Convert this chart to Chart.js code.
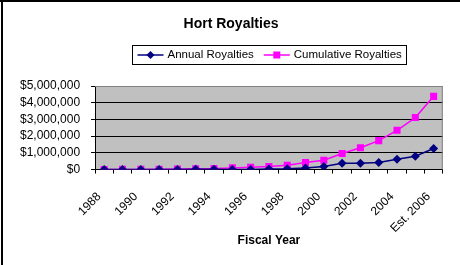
<!DOCTYPE html>
<html>
<head>
<meta charset="utf-8">
<title>Hort Royalties</title>
<script src="https://cdn.jsdelivr.net/npm/chart.js@4.4.0/dist/chart.umd.min.js"></script>
<style>
  html, body { margin: 0; padding: 0; background: #fff; }
  #wrap { width: 460px; height: 265px; }
</style>
</head>
<body>
<div id="wrap"><canvas id="royaltyChart" width="460" height="265"></canvas></div>
<script>
// Fiscal years on the x axis (last one is an estimate)
const fiscalYears = ['1988', '1989', '1990', '1991', '1992', '1993', '1994', '1995', '1996', '1997',
  '1998', '1999', '2000', '2001', '2002', '2003', '2004', '2005', 'Est. 2006'];

// Royalties in dollars
const annualRoyalties = [5000, 5000, 5000, 8000, 10000, 15000, 15000, 10000, 10000, 30000,
  50000, 100000, 180000, 380000, 380000, 420000, 620000, 800000, 1260000];
const cumulativeRoyalties = [5000, 10000, 10000, 20000, 30000, 50000, 60000, 100000, 140000, 180000,
  260000, 420000, 560000, 960000, 1310000, 1730000, 2350000, 3110000, 4380000];

const seriesNames = ['Annual Royalties', 'Cumulative Royalties'];
const seriesColors = ['#000080', '#ff00ff'];
const yMax = 5000000;
const yStep = 1000000;

const FONT = "'Liberation Sans', Arial, sans-serif";
Chart.defaults.font.family = FONT;
Chart.defaults.font.size = 12;
Chart.defaults.color = '#000';

// draws a small marker the way excel does it
function drawMarker(ctx, style, x, y, r, color) {
  ctx.save();
  ctx.fillStyle = color;
  ctx.beginPath();
  if (style === 'rectRot') {
    ctx.moveTo(x, y - r);
    ctx.lineTo(x + r, y);
    ctx.lineTo(x, y + r);
    ctx.lineTo(x - r, y);
    ctx.closePath();
  } else {
    ctx.rect(x - r, y - r, r * 2, r * 2);
  }
  ctx.fill();
  ctx.restore();
}

const excelFrame = {
  id: 'excelFrame',
  beforeDraw(chart) {
    const { ctx, chartArea: a } = chart;
    ctx.save();
    ctx.fillStyle = '#fff';
    ctx.fillRect(0, 0, chart.width, chart.height);
    ctx.fillStyle = '#c0c0c0';
    ctx.fillRect(a.left, a.top, a.right - a.left, a.bottom - a.top);
    ctx.restore();
  },
  beforeDatasetsDraw(chart) {
    // grey border on top and right of the plot area
    const { ctx, chartArea: a } = chart;
    ctx.save();
    ctx.strokeStyle = '#808080';
    ctx.lineWidth = 1;
    ctx.beginPath();
    ctx.moveTo(a.left, a.top + 0.5);
    ctx.lineTo(a.right - 0.5, a.top + 0.5);
    ctx.lineTo(a.right - 0.5, a.bottom);
    ctx.stroke();
    ctx.restore();
  },
  afterDraw(chart) {
    const { ctx, chartArea: a } = chart;
    ctx.save();

    // legend with a box round it, centred over the plot
    ctx.font = '11.5px ' + FONT;
    const sample = 26, gap = 4, itemGap = 10, pad = 5;
    const items = chart.data.datasets.map(ds => ({ ds, w: sample + gap + ctx.measureText(ds.label).width }));
    const total = items.reduce((s, it) => s + it.w, 0) + itemGap * (items.length - 1) + pad * 2;
    const boxTop = 45, boxH = 19;
    let left = Math.round((a.left + a.right) / 2 - total / 2) + 0.5;
    ctx.strokeStyle = '#000';
    ctx.lineWidth = 1;
    ctx.strokeRect(left, boxTop + 0.5, Math.round(total), boxH);
    const cy = boxTop + boxH / 2 + 0.5;
    let x = left + pad;
    items.forEach(({ ds, w }) => {
      ctx.strokeStyle = ds.borderColor;
      ctx.lineWidth = ds.borderWidth;
      ctx.beginPath();
      ctx.moveTo(x, cy);
      ctx.lineTo(x + sample, cy);
      ctx.stroke();
      drawMarker(ctx, ds.pointStyle, x + sample / 2, cy, ds.pointStyle === 'rectRot' ? 4 : 3.5, ds.backgroundColor);
      ctx.fillStyle = '#000';
      ctx.textBaseline = 'middle';
      ctx.textAlign = 'left';
      ctx.fillText(ds.label, x + sample + gap, cy);
      x += w + itemGap;
    });

    // outer chart border (top and left edges show in the crop)
    ctx.fillStyle = '#000';
    ctx.fillRect(0, 0, chart.width, 2);
    ctx.fillRect(1, 0, 2, chart.height);
    ctx.restore();
  }
};

new Chart(document.getElementById('royaltyChart'), {
  type: 'line',
  data: {
    labels: fiscalYears,
    datasets: [
      {
        label: seriesNames[0],
        data: annualRoyalties,
        borderColor: seriesColors[0],
        backgroundColor: seriesColors[0],
        borderWidth: 1.5,
        pointStyle: 'rectRot',
        pointRadius: 4.5,
        pointBorderWidth: 0,
        tension: 0
      },
      {
        label: seriesNames[1],
        data: cumulativeRoyalties,
        borderColor: seriesColors[1],
        backgroundColor: seriesColors[1],
        borderWidth: 1.5,
        pointStyle: 'rect',
        pointRadius: 5,
        pointBorderWidth: 0,
        tension: 0
      }
    ]
  },
  options: {
    responsive: false,
    animation: false,
    layout: { padding: { left: 9, right: 7, top: 0, bottom: 17 } },
    plugins: {
      legend: { display: false },
      tooltip: { enabled: false },
      title: {
        display: true,
        text: 'Hort Royalties',
        font: { size: 14, weight: 'bold' },
        color: '#000',
        padding: { top: 15.6, bottom: 53.6 }
      }
    },
    scales: {
      x: {
        offset: true,
        grid: {
          offset: true,
          drawOnChartArea: false,
          color: '#000',
          tickLength: 4
        },
        border: { color: '#000', width: 1 },
        ticks: {
          autoSkip: false,
          minRotation: 45,
          maxRotation: 45,
          padding: 16,
          labelOffset: -5,
          callback(value, index) {
            return index % 2 === 0 ? this.getLabelForValue(value) : '';
          }
        },
        title: {
          display: true,
          text: 'Fiscal Year',
          font: { size: 12, weight: 'bold' },
          padding: { top: -18, bottom: 0 }
        }
      },
      y: {
        min: 0,
        max: yMax,
        grid: {
          color: ctx => (ctx.tick && ctx.tick.value === yMax ? '#808080' : '#000'),
          tickColor: '#000',
          tickLength: 4,
          lineWidth: 1
        },
        border: { color: '#000', width: 1 },
        ticks: {
          stepSize: yStep,
          autoSkip: false,
          padding: 11,
          callback: v => '$' + v.toLocaleString('en-US')
        }
      }
    }
  },
  plugins: [excelFrame]
});
</script>
</body>
</html>
